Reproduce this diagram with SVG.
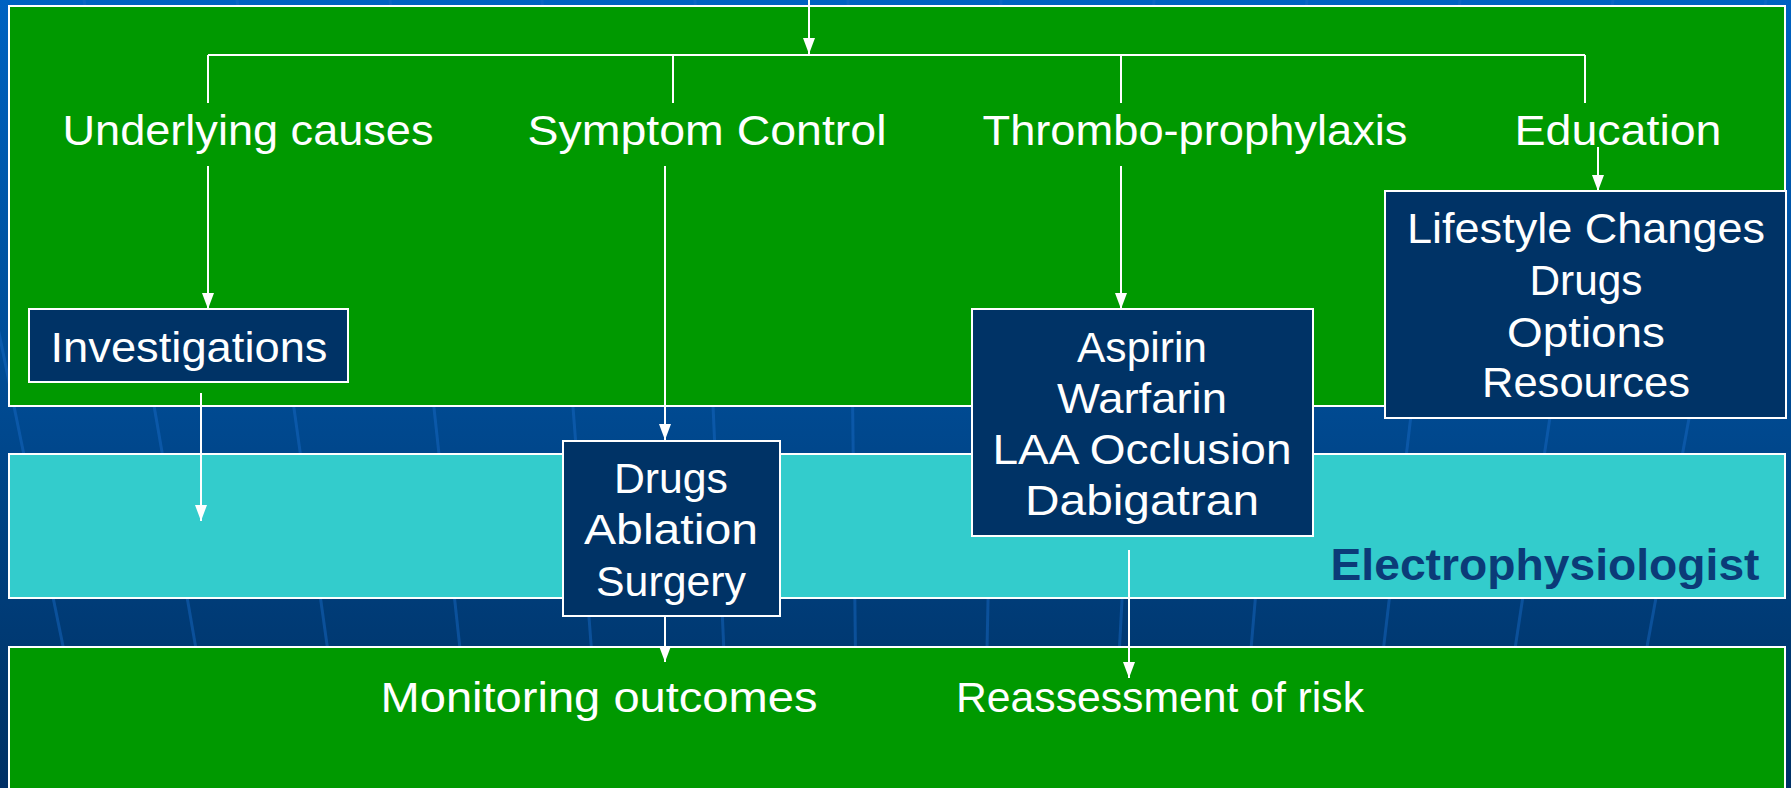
<svg xmlns="http://www.w3.org/2000/svg" width="1791" height="788" viewBox="0 0 1791 788">
<defs>
<linearGradient id="bg" x1="0" y1="0" x2="0" y2="1">
<stop offset="0" stop-color="#0062c2"/>
<stop offset="0.55" stop-color="#00488e"/>
<stop offset="0.8" stop-color="#003a74"/>
<stop offset="1" stop-color="#003066"/>
</linearGradient>
<marker id="ah" viewBox="0 0 16 12" refX="16" refY="6" markerWidth="16" markerHeight="12" markerUnits="userSpaceOnUse" orient="auto">
<path d="M0,0 L16,6 L0,12 z" fill="#ffffff"/>
</marker>
<style>
.band{stroke:#ffffff;stroke-width:2}
.green{fill:#009900}
.cyan{fill:#33cccc}
.box{fill:#003366;stroke:#ffffff;stroke-width:2}
.t{font-family:"Liberation Sans",Arial,sans-serif;font-size:42px;fill:#ffffff;text-anchor:middle}
.ep{font-family:"Liberation Sans",Arial,sans-serif;font-size:44px;font-weight:bold;fill:#0b3b78;text-anchor:middle}
.c{stroke:#ffffff;stroke-width:2;fill:none}
.a{stroke:#ffffff;stroke-width:2;fill:none;marker-end:url(#ah)}
.gl{stroke:#1a6cc8;stroke-width:3;opacity:0.45}
</style>
</defs>
<rect x="0" y="0" width="1791" height="788" fill="url(#bg)"/>
<g id="background-grid">
<line class="gl" x1="-69" y1="0" x2="92" y2="788"/>
<line class="gl" x1="84" y1="0" x2="220" y2="788"/>
<line class="gl" x1="237" y1="0" x2="347" y2="788"/>
<line class="gl" x1="390" y1="0" x2="475" y2="788"/>
<line class="gl" x1="542" y1="0" x2="602" y2="788"/>
<line class="gl" x1="695" y1="0" x2="730" y2="788"/>
<line class="gl" x1="848" y1="0" x2="857" y2="788"/>
<line class="gl" x1="1001" y1="0" x2="984" y2="788"/>
<line class="gl" x1="1154" y1="0" x2="1112" y2="788"/>
<line class="gl" x1="1307" y1="0" x2="1239" y2="788"/>
<line class="gl" x1="1460" y1="0" x2="1367" y2="788"/>
<line class="gl" x1="1613" y1="0" x2="1494" y2="788"/>
<line class="gl" x1="1766" y1="0" x2="1621" y2="788"/>
</g>
<g id="band-top"><rect class="band green" x="9" y="6" width="1776" height="400"/></g>
<g id="band-ep">
<rect class="band cyan" x="9" y="454" width="1776" height="144"/>
<text class="ep" x="1545" y="580" textLength="429" lengthAdjust="spacingAndGlyphs">Electrophysiologist</text>
</g>
<g id="band-bottom"><rect class="band green" x="9" y="647" width="1776" height="160"/></g>
<g id="underlying-causes"><text class="t" x="248" y="145" textLength="371" lengthAdjust="spacingAndGlyphs">Underlying causes</text></g>
<g id="symptom-control"><text class="t" x="707" y="145" textLength="359" lengthAdjust="spacingAndGlyphs">Symptom Control</text></g>
<g id="thromboprophylaxis"><text class="t" x="1195" y="145" textLength="425" lengthAdjust="spacingAndGlyphs">Thrombo-prophylaxis</text></g>
<g id="education"><text class="t" x="1618" y="145" textLength="207" lengthAdjust="spacingAndGlyphs">Education</text></g>
<g id="connectors">
<line class="a" x1="809" y1="0" x2="809" y2="54"/>
<line class="c" x1="208" y1="55" x2="1585" y2="55"/>
<line class="c" x1="208" y1="55" x2="208" y2="103"/>
<line class="c" x1="673" y1="55" x2="673" y2="103"/>
<line class="c" x1="1121" y1="55" x2="1121" y2="103"/>
<line class="c" x1="1585" y1="55" x2="1585" y2="103"/>
<line class="a" x1="208" y1="166" x2="208" y2="309"/>
<line class="a" x1="665" y1="166" x2="665" y2="440"/>
<line class="a" x1="1121" y1="166" x2="1121" y2="309"/>
<line class="a" x1="1598" y1="147" x2="1598" y2="191"/>
<line class="a" x1="201" y1="393" x2="201" y2="521"/>
<line class="a" x1="665" y1="614" x2="665" y2="662"/>
<line class="a" x1="1129" y1="550" x2="1129" y2="678"/>
</g>
<g id="investigations">
<rect class="box" x="29" y="309" width="319" height="73"/>
<text class="t" x="189" y="362" textLength="277" lengthAdjust="spacingAndGlyphs">Investigations</text>
</g>
<g id="thrombo-options">
<rect class="box" x="972" y="309" width="341" height="227"/>
<text class="t" x="1142" y="362" textLength="130" lengthAdjust="spacingAndGlyphs">Aspirin</text>
<text class="t" x="1142" y="413" textLength="170" lengthAdjust="spacingAndGlyphs">Warfarin</text>
<text class="t" x="1142" y="464" textLength="299" lengthAdjust="spacingAndGlyphs">LAA Occlusion</text>
<text class="t" x="1142" y="515" textLength="234" lengthAdjust="spacingAndGlyphs">Dabigatran</text>
</g>
<g id="education-topics">
<rect class="box" x="1385" y="191" width="401" height="227"/>
<text class="t" x="1586" y="243" textLength="358" lengthAdjust="spacingAndGlyphs">Lifestyle Changes</text>
<text class="t" x="1586" y="295" textLength="113" lengthAdjust="spacingAndGlyphs">Drugs</text>
<text class="t" x="1586" y="347" textLength="158" lengthAdjust="spacingAndGlyphs">Options</text>
<text class="t" x="1586" y="397" textLength="208" lengthAdjust="spacingAndGlyphs">Resources</text>
</g>
<g id="symptom-options">
<rect class="box" x="563" y="441" width="217" height="175"/>
<text class="t" x="671" y="493" textLength="114" lengthAdjust="spacingAndGlyphs">Drugs</text>
<text class="t" x="671" y="544" textLength="174" lengthAdjust="spacingAndGlyphs">Ablation</text>
<text class="t" x="671" y="596" textLength="150" lengthAdjust="spacingAndGlyphs">Surgery</text>
</g>
<g id="monitoring-outcomes"><text class="t" x="599" y="712" textLength="437" lengthAdjust="spacingAndGlyphs">Monitoring outcomes</text></g>
<g id="reassessment-of-risk"><text class="t" x="1160" y="712" textLength="408" lengthAdjust="spacingAndGlyphs">Reassessment of risk</text></g>
</svg>
